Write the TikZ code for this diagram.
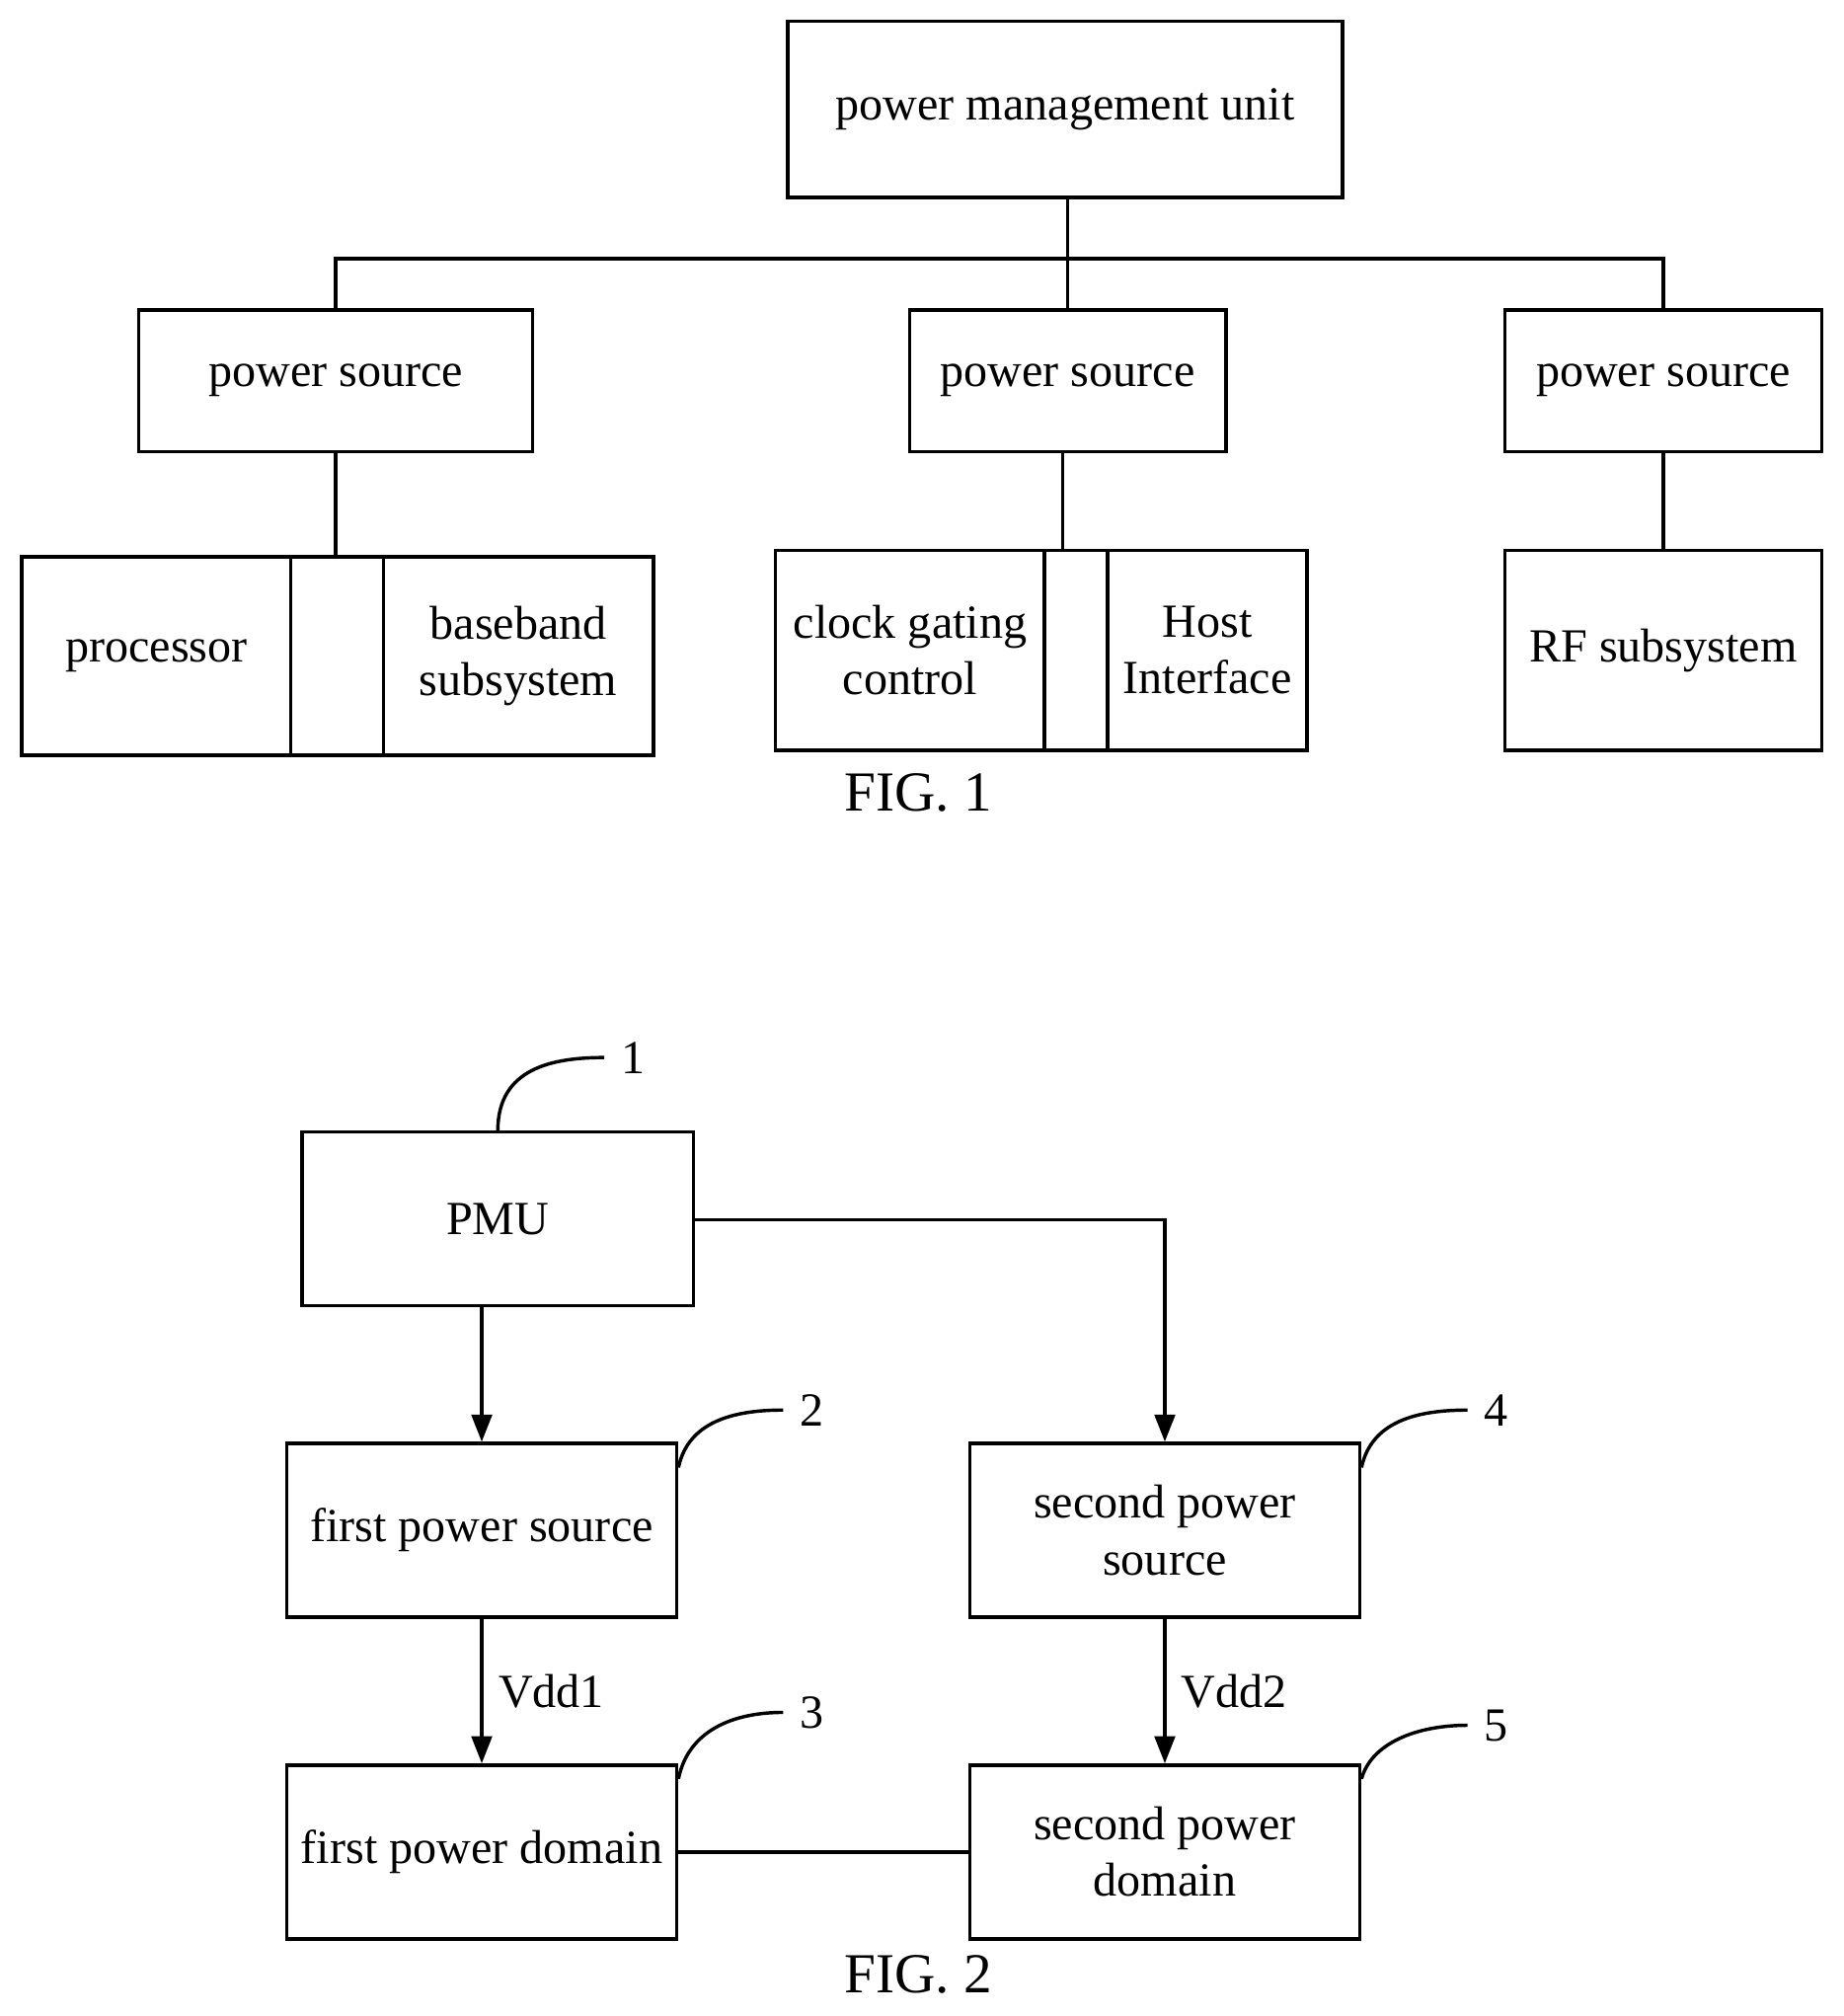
\documentclass[tikz,border=0pt]{standalone}
\usepackage{fontspec}
\setmainfont{Liberation Serif}
\usetikzlibrary{arrows.meta}
\begin{document}
\begin{tikzpicture}[x=0.01cm,y=-0.01cm,line width=0.75pt,font=\fontsize{10.5}{12.5}\selectfont,
  box/.style={draw,minimum width=#1,inner sep=0pt,align=center},
  arr/.style={-{Triangle[length=6pt,width=4.5pt]}}]
\useasboundingbox (0,0) rectangle (1433,1567);
% FIG. 1
\node (pmu) [box=4.31cm,minimum height=1.37cm] at (828,85) {power management unit};
\node (ps1) [box=3.06cm,minimum height=1.10cm] at (261,296) {power source};
\node (ps2) [box=2.46cm,minimum height=1.10cm] at (830,296) {power source};
\node (ps3) [box=2.46cm,minimum height=1.10cm] at (1293,296) {power source};
\node (proc) [box=2.09cm,minimum height=1.54cm] at (121.5,510) {processor};
\node (gap1) [box=0.72cm,minimum height=1.54cm] at (262,510) {};
\node (base) [box=2.10cm,minimum height=1.54cm] at (403,510) {baseband\\subsystem};
\node (clk) [box=2.09cm,minimum height=1.55cm] at (707.5,505.5) {clock gating\\control};
\node (gap2) [box=0.49cm,minimum height=1.55cm] at (836.5,505.5) {};
\node (host) [box=1.55cm,minimum height=1.55cm] at (938.5,505.5) {Host\\Interface};
\node (rf) [box=2.46cm,minimum height=1.55cm] at (1293,505.5) {RF subsystem};
\node (fig1) at (714,616) {\fontsize{12.5}{14}\selectfont FIG. 1};
\coordinate (bus) at (830,201);
\draw (pmu.south -| ps2) -- (ps2);
\draw (ps1.north) |- (bus) -| (ps3.north);
\draw (ps1.south) -- (ps1.south |- gap1.north);
\draw (ps2.south -| 826,0) -- (826,428);
\draw (ps3) -- (rf);
% FIG. 2
\node (PMU) [box=3.04cm,minimum height=1.35cm] at (387,947.5) {PMU};
\node (fps) [box=3.03cm,minimum height=1.35cm] at (374.5,1189.5) {first power source};
\node (sps) [box=3.03cm,minimum height=1.35cm] at (905.5,1189.5) {second power\\source};
\node (fpd) [box=3.03cm,minimum height=1.35cm] at (374.5,1439.5) {first power domain};
\node (spd) [box=3.03cm,minimum height=1.35cm] at (905.5,1439.5) {second power\\domain};
\node (fig2) at (714,1535) {\fontsize{12.5}{14}\selectfont FIG. 2};
\draw[arr] (PMU.south -| fps) -- (fps);
\draw[arr] (PMU.east |- 0,948) -| (sps);
\draw[arr] (fps) -- node[right,pos=0.5] {Vdd1} (fpd);
\draw[arr] (sps) -- node[right,pos=0.5] {Vdd2} (spd);
\draw (fpd) -- (spd);
% callouts
\node (n1) at (492,822) {1};
\node (n2) at (631,1096) {2};
\node (n3) at (631,1331) {3};
\node (n4) at (1163,1096) {4};
\node (n5) at (1163,1341) {5};
\draw (PMU.north) .. controls (387,830) and (430,822) .. (n1.west);
\draw (fps.north east) ++(0,20) .. controls (535,1105) and (570,1096) .. (n2.west);
\draw (fpd.north east) ++(0,12) .. controls (535,1345) and (570,1331) .. (n3.west);
\draw (sps.north east) ++(0,20) .. controls (1066,1105) and (1101,1096) .. (n4.west);
\draw (spd.north east) ++(0,12) .. controls (1066,1355) and (1101,1341) .. (n5.west);
\end{tikzpicture}
\end{document}
